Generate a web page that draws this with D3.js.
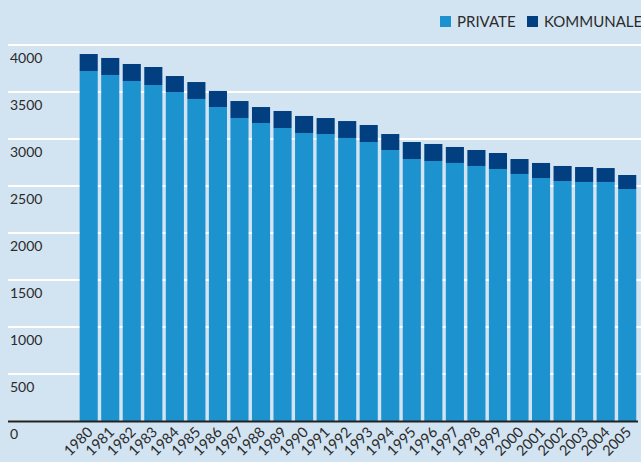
<!DOCTYPE html>
<html>
<head>
<meta charset="utf-8">
<script src="https://cdn.jsdelivr.net/npm/d3@7/dist/d3.min.js"></script>
<style>
  html, body { margin: 0; padding: 0; background: #d2e3f2; }
  svg { display: block; }
  text { font-family: Lato, "Open Sans", sans-serif; fill: #2b2b2b; }
</style>
</head>
<body>
<svg id="chart"></svg>
<script>
var years = ['1980', '1981', '1982', '1983', '1984', '1985', '1986', '1987', '1988',
  '1989', '1990', '1991', '1992', '1993', '1994', '1995', '1996', '1997', '1998',
  '1999', '2000', '2001', '2002', '2003', '2004', '2005'];
var privateValues = [3723, 3681, 3617, 3574, 3500, 3426, 3340, 3223, 3170, 3117, 3064, 3053,
  3011, 2968, 2883, 2787, 2766, 2745, 2713, 2681, 2628, 2585, 2553, 2543, 2543, 2468];
var kommunaleValues = [181, 181, 181, 192, 170, 180, 171, 181, 170, 181, 181, 170,
  180, 181, 170, 181, 181, 170, 170, 170, 159, 160, 160, 159, 148, 149];
var seriesNames = ['PRIVATE', 'KOMMUNALE'];
var tickValues = [0, 500, 1000, 1500, 2000, 2500, 3000, 3500, 4000];

var width = 641, height = 462;
var colors = { PRIVATE: '#1c92cf', KOMMUNALE: '#013f80' };

var svg = d3.select('#chart').attr('width', width).attr('height', height);

svg.append('rect')
  .attr('width', width)
  .attr('height', height)
  .attr('fill', '#d2e3f2');

var x = d3.scaleBand()
  .domain(years)
  .range([76.2, 639.7])
  .padding(0.16);

var y = d3.scaleLinear()
  .domain([0, 4000])
  .range([421, 45]);

var rows = years.map(function (yr, i) {
  return { year: yr, PRIVATE: privateValues[i], KOMMUNALE: kommunaleValues[i] };
});
var stacked = d3.stack().keys(seriesNames)(rows);

// gridlines, labels sit under each line
var grid = svg.append('g');
grid.selectAll('line')
  .data(tickValues.filter(function (d) { return d > 0; }))
  .enter()
  .append('line')
  .attr('x1', 8)
  .attr('x2', width)
  .attr('y1', function (d) { return y(d); })
  .attr('y2', function (d) { return y(d); })
  .attr('stroke', '#ffffff')
  .attr('stroke-width', 2);

grid.selectAll('text')
  .data(tickValues)
  .enter()
  .append('text')
  .attr('x', 10)
  .attr('y', function (d) { return y(d) + 18; })
  .attr('font-size', 14)
  .text(function (d) { return d; });

// bars
svg.append('g')
  .selectAll('g')
  .data(stacked)
  .enter()
  .append('g')
  .attr('fill', function (s) { return colors[s.key]; })
  .selectAll('rect')
  .data(function (s) { return s; })
  .enter()
  .append('rect')
  .attr('x', function (d) { return x(d.data.year); })
  .attr('width', x.bandwidth())
  .attr('y', function (d) { return y(d[1]); })
  .attr('height', function (d) { return y(d[0]) - y(d[1]); });

// baseline
svg.append('line')
  .attr('x1', 8)
  .attr('x2', 638)
  .attr('y1', y(0) + 0.5)
  .attr('y2', y(0) + 0.5)
  .attr('stroke', '#222222')
  .attr('stroke-width', 2);

// year labels
svg.append('g')
  .selectAll('text')
  .data(years)
  .enter()
  .append('text')
  .attr('font-size', 14.5)
  .attr('text-anchor', 'end')
  .attr('transform', function (d) {
    return 'translate(' + (x(d) + x.bandwidth() / 2 + 5) + ',' + 433 + ') rotate(-45)';
  })
  .text(function (d) { return d; });

// legend
var legendPos = { PRIVATE: 440, KOMMUNALE: 527 };
var legend = svg.append('g');
seriesNames.forEach(function (name) {
  legend.append('rect')
    .attr('x', legendPos[name])
    .attr('y', 16)
    .attr('width', 11)
    .attr('height', 11)
    .attr('fill', colors[name]);
  legend.append('text')
    .attr('x', legendPos[name] + 17)
    .attr('y', 27)
    .attr('font-size', 15)
    .text(name);
});
</script>
</body>
</html>
